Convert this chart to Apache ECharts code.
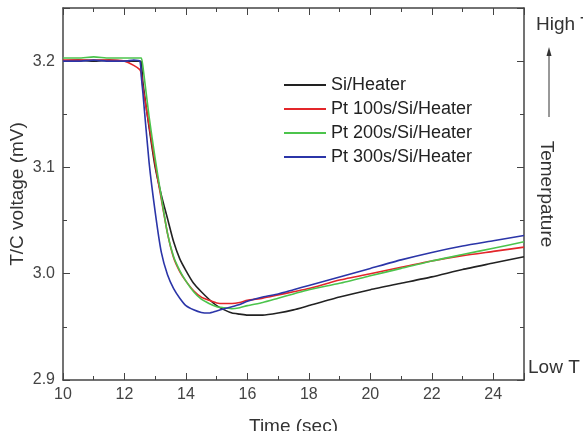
<!DOCTYPE html>
<html>
<head>
<meta charset="utf-8">
<script src="https://cdn.jsdelivr.net/npm/echarts@6/dist/echarts.min.js"></script>
<style>
  html, body { margin: 0; padding: 0; background: #fff; }
  #chart { width: 583px; height: 431px; }
</style>
</head>
<body>
<div id="chart"></div>
<script>
// time axis shared by all four traces (sec)
const TIME = [10, 10.5, 11, 11.5, 12, 12.3, 12.5, 12.55, 12.6, 12.8, 13, 13.2, 13.4, 13.6, 13.8,
  14, 14.25, 14.5, 14.75, 15, 15.25, 15.5, 15.75, 16, 16.5, 17, 17.5, 18, 19, 20, 21, 22, 23, 24, 25];

// T/C voltage (mV)
const SI_HEATER = [3.200, 3.201, 3.200, 3.201, 3.200, 3.200, 3.200, 3.199, 3.180, 3.138, 3.100, 3.074, 3.052, 3.030, 3.014,
  3.003, 2.991, 2.983, 2.976, 2.970, 2.966, 2.963, 2.962, 2.961, 2.961, 2.963, 2.966, 2.970, 2.978, 2.985, 2.991, 2.997, 3.004, 3.010, 3.016];
const PT100 = [3.201, 3.201, 3.201, 3.201, 3.200, 3.196, 3.192, 3.188, 3.175, 3.140, 3.103, 3.070, 3.038, 3.015, 3.002,
  2.993, 2.984, 2.978, 2.975, 2.9725, 2.972, 2.972, 2.973, 2.975, 2.977, 2.980, 2.983, 2.986, 2.994, 3.000, 3.006, 3.012, 3.017, 3.021, 3.025];
const PT200 = [3.203, 3.203, 3.204, 3.203, 3.203, 3.203, 3.203, 3.203, 3.195, 3.148, 3.108, 3.072, 3.038, 3.016, 3.003,
  2.993, 2.983, 2.976, 2.972, 2.969, 2.968, 2.967, 2.968, 2.970, 2.973, 2.977, 2.981, 2.985, 2.991, 2.998, 3.005, 3.012, 3.018, 3.024, 3.030];
const PT300 = [3.200, 3.200, 3.201, 3.200, 3.200, 3.201, 3.200, 3.185, 3.170, 3.105, 3.058, 3.020, 2.999, 2.986, 2.977,
  2.970, 2.966, 2.9635, 2.963, 2.965, 2.967, 2.969, 2.971, 2.974, 2.978, 2.981, 2.985, 2.989, 2.997, 3.005, 3.013, 3.020, 3.026, 3.031, 3.036];

const NAMES = ["Si/Heater", "Pt 100s/Si/Heater", "Pt 200s/Si/Heater", "Pt 300s/Si/Heater"];
const COLORS = ["#222222", "#e3262a", "#4cc44c", "#2b35a8"];

const FAMILY = "'Liberation Sans', Arial, sans-serif";
const FONT = { fontFamily: FAMILY, color: "#444", fontSize: 16 };
const BIG = "19px 'Liberation Sans', Arial, sans-serif";
const AXIS_LINE = { show: true, lineStyle: { color: "#444", width: 1.5 } };
const TICK = { show: true, inside: true, length: 7, lineStyle: { color: "#444" } };
const MINOR = { show: true, splitNumber: 2, length: 4, lineStyle: { color: "#444" } };

const pairs = (vals) => TIME.map((t, i) => [t, vals[i]]);

function xAxisDef(pos, labels) {
  return {
    type: "value", position: pos, min: 10, max: 25, interval: 2,
    name: labels ? "Time (sec)" : "", nameLocation: "middle", nameGap: 37, nameMoveOverlap: false,
    nameTextStyle: { ...FONT, color: "#333", fontSize: 19 },
    axisLine: AXIS_LINE, axisTick: TICK, minorTick: MINOR,
    axisLabel: { show: labels, ...FONT, margin: 7, showMaxLabel: false },
    splitLine: { show: false },
  };
}

function yAxisDef(pos, labels) {
  return {
    type: "value", position: pos, min: 2.9, max: 3.25, interval: 0.1,
    name: labels ? "T/C voltage (mV)" : "", nameLocation: "middle", nameGap: 36, nameMoveOverlap: false,
    nameTextStyle: { ...FONT, color: "#333", fontSize: 19 },
    axisLine: AXIS_LINE, axisTick: TICK, minorTick: MINOR,
    axisLabel: { show: labels, ...FONT, margin: 8, showMaxLabel: false, formatter: (v) => v.toFixed(1) },
    splitLine: { show: false },
  };
}

const chart = echarts.init(document.getElementById("chart"), null, { renderer: "canvas" });
chart.setOption({
  animation: false,
  backgroundColor: "#fff",
  grid: { left: 63, right: 59, top: 8, bottom: 51, outerBoundsMode: "none" },
  xAxis: [xAxisDef("bottom", true), xAxisDef("top", false)],
  yAxis: [yAxisDef("left", true), yAxisDef("right", false)],
  legend: {
    orient: "vertical", left: 279, top: 71,
    icon: "rect", itemWidth: 42, itemHeight: 2, itemGap: 6,
    textStyle: { ...FONT, color: "#222", fontSize: 18, lineHeight: 18 },
    data: NAMES,
  },
  series: [SI_HEATER, PT100, PT200, PT300].map((vals, i) => ({
    name: NAMES[i], type: "line", data: pairs(vals),
    showSymbol: false, smooth: 0.2,
    lineStyle: { width: 1.6, color: COLORS[i] },
    itemStyle: { color: COLORS[i] },
    z: i === 0 ? 2 : 3,
  })),
  graphic: [
    { type: "text", x: 536, y: 25, style: { text: "High T", font: BIG, fill: "#333", verticalAlign: "middle" } },
    { type: "line", shape: { x1: 549, y1: 117, x2: 549, y2: 54 }, style: { stroke: "#333", lineWidth: 1 } },
    { type: "polygon", shape: { points: [[549, 47], [546.5, 56], [551.5, 56]] }, style: { fill: "#333" } },
    {
      type: "text", x: 546, y: 194, rotation: -Math.PI / 2,
      style: { text: "Temerpature", font: BIG, fill: "#333", align: "center", verticalAlign: "middle" },
    },
    { type: "text", x: 528, y: 368, style: { text: "Low T", font: BIG, fill: "#333", verticalAlign: "middle" } },
  ],
});
</script>
</body>
</html>
